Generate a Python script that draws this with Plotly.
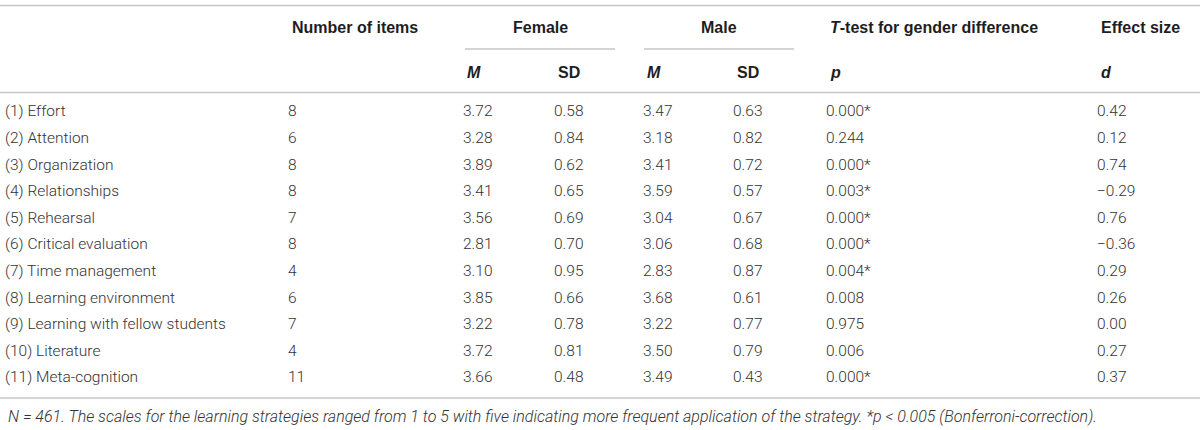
import plotly.graph_objects as go

# ---- data ----
strategies = ["(1) Effort", "(2) Attention", "(3) Organization", "(4) Relationships",
              "(5) Rehearsal", "(6) Critical evaluation", "(7) Time management",
              "(8) Learning environment", "(9) Learning with fellow students",
              "(10) Literature", "(11) Meta-cognition"]
n_items = [8, 6, 8, 8, 7, 8, 4, 6, 7, 4, 11]
female_m = [3.72, 3.28, 3.89, 3.41, 3.56, 2.81, 3.10, 3.85, 3.22, 3.72, 3.66]
female_sd = [0.58, 0.84, 0.62, 0.65, 0.69, 0.70, 0.95, 0.66, 0.78, 0.81, 0.48]
male_m = [3.47, 3.18, 3.41, 3.59, 3.04, 3.06, 2.83, 3.68, 3.22, 3.50, 3.49]
male_sd = [0.63, 0.82, 0.72, 0.57, 0.67, 0.68, 0.87, 0.61, 0.77, 0.79, 0.43]
p_values = ["0.000*", "0.244", "0.000*", "0.003*", "0.000*", "0.000*", "0.004*",
            "0.008", "0.975", "0.006", "0.000*"]
effect_d = [0.42, 0.12, 0.74, -0.29, 0.76, -0.36, 0.29, 0.26, 0.00, 0.27, 0.37]

footer = ("<i>N</i> = 461. The scales for the learning strategies ranged from 1 to 5 with five "
          "indicating more frequent application of the strategy. *<i>p</i> &lt; 0.005 (Bonferroni-correction).")

# ---- layout helpers ----
BODY = dict(family="Roboto", size=15.5, color="#333333", weight=300)
HEAD = dict(family="Liberation Sans", size=16, color="#1e1e1e", weight=700)
LINE = "#c6c6c6"

col_x = dict(label=5, n=288, fm=463, fsd=554, mm=643, msd=733, p=826, d=1097)
rows = list(range(len(strategies)))

def fmt2(v):
    return f"{v:.2f}".replace("-", "\u2212")

columns = [
    ("label", strategies),
    ("n", [str(v) for v in n_items]),
    ("fm", [fmt2(v) for v in female_m]),
    ("fsd", [fmt2(v) for v in female_sd]),
    ("mm", [fmt2(v) for v in male_m]),
    ("msd", [fmt2(v) for v in male_sd]),
    ("p", p_values),
    ("d", [fmt2(v) for v in effect_d]),
]

fig = go.Figure()
for key, texts in columns:
    fig.add_trace(go.Scatter(
        x=[col_x[key]] * len(texts), y=rows, text=texts, mode="text",
        textposition="middle right", textfont=BODY, hoverinfo="skip", showlegend=False,
    ))

# row geometry in row units: pixel = Y0 + DY*y
Y0, DY = 112.5, 26.6
def py(pix):
    return (pix - Y0) / DY

H1, H2 = py(27.5), py(72)
for key, t in [("n", "<b>Number of items</b>"),
               ("p", "<b><i>T</i>-test for gender difference</b>"),
               ("d", "<b>Effect size</b>")]:
    fig.add_annotation(x=col_x[key] + 2, y=H1, text=t, showarrow=False, xanchor="left",
                       yanchor="middle", font=HEAD)
fig.add_annotation(x=540, y=H1, text="<b>Female</b>", showarrow=False, xanchor="center",
                   yanchor="middle", font=HEAD)
fig.add_annotation(x=719, y=H1, text="<b>Male</b>", showarrow=False, xanchor="center",
                   yanchor="middle", font=HEAD)
for key, t in [("fm", "<b><i>M</i></b>"), ("fsd", "<b>SD</b>"), ("mm", "<b><i>M</i></b>"),
               ("msd", "<b>SD</b>"), ("p", "<b><i>p</i></b>"), ("d", "<b><i>d</i></b>")]:
    fig.add_annotation(x=col_x[key] + 2, y=H2, text=t, showarrow=False, xanchor="left",
                       yanchor="middle", font=HEAD)

fig.add_annotation(x=6, y=py(416), text=footer, showarrow=False, xanchor="left",
                   yanchor="middle", font=dict(family="Roboto", size=16, color="#333333",
                                               weight=300, style="italic"))

# rules
for (x0, x1, pix) in [(0, 1200, 5.5), (465, 615, 49), (644, 794, 49),
                      (0, 1200, 92.5), (0, 1200, 398)]:
    fig.add_shape(type="line", x0=x0, x1=x1, y0=py(pix), y1=py(pix),
                  line=dict(color=LINE, width=1.6), xref="x", yref="y")

fig.update_layout(
    width=1200, height=430, margin=dict(l=0, r=0, t=0, b=0),
    paper_bgcolor="white", plot_bgcolor="white",
    xaxis=dict(range=[0, 1200], visible=False, fixedrange=True),
    yaxis=dict(range=[py(430), py(0)], visible=False, fixedrange=True),
)
fig.write_html("out.html", config={"displayModeBar": False},
               post_script="document.body.style.margin='0';document.body.style.overflow='hidden';")
